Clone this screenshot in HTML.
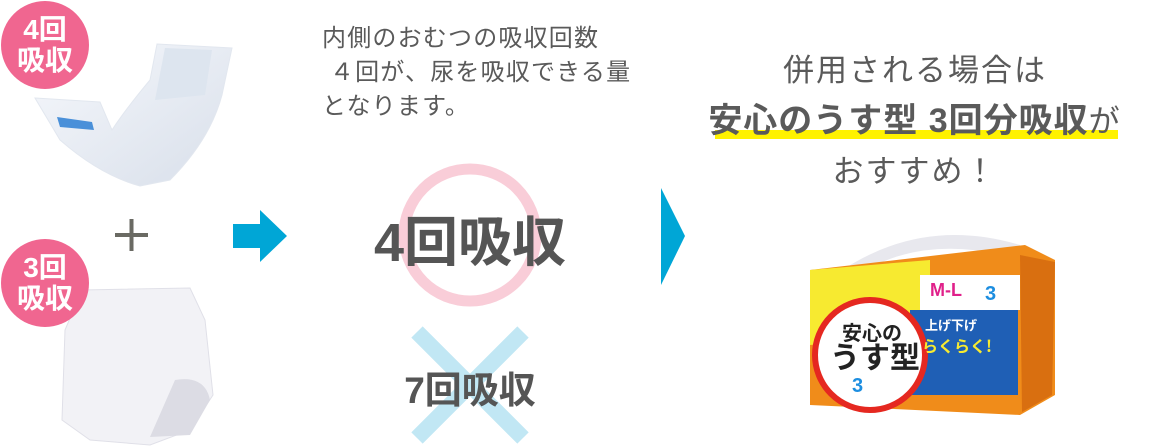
<!DOCTYPE html>
<html><head><meta charset="utf-8"><style>
body{margin:0;width:1152px;height:447px;background:#fff;position:relative;overflow:hidden;font-family:"Liberation Sans","Noto Sans CJK JP",sans-serif;color:#595959}
.a{position:absolute}
.badge{position:absolute;width:88px;height:88px;border-radius:50%;background:#f06690;color:#fff;font-weight:bold;font-size:28px;line-height:31px;text-align:center;display:flex;align-items:center;justify-content:center}
</style></head><body>
<svg class="a" style="left:0;top:0" width="300" height="447">
<defs><linearGradient id="g1" x1="0" y1="0" x2="1" y2="1"><stop offset="0" stop-color="#f6f8fc"/><stop offset="1" stop-color="#d8dfea"/></linearGradient></defs>
<path d="M35,98 L100,102 L112,130 Q125,110 150,80 L157,44 L232,48 L222,95 Q210,140 170,180 L140,186 Q100,175 60,140 Z" fill="url(#g1)" stroke="#e2e7ef"/>
<path d="M165,48 L212,50 L205,95 L155,100 Z" fill="#dde5ef"/>
<path d="M57,117 L92,122 L94,130 L60,127 Z" fill="#4a90d9"/>
<path d="M82,290 L190,288 L205,320 L213,395 L190,430 L150,445 L90,440 L62,420 L65,330 Z" fill="#f2f2f6" stroke="#e0e0e8"/>
<path d="M175,380 Q205,375 210,400 L190,435 L150,437 Z" fill="#dcdce4"/>
<rect x="115" y="233" width="33" height="4" fill="#6a6a63"/><rect x="129.5" y="219" width="4" height="32" fill="#6a6a63"/>
<path d="M233,224 L260,224 L260,210 L287,236 L260,262 L260,248 L233,248 Z" fill="#00a6d6"/>
</svg>
<div class="badge" style="left:1px;top:1px">4回<br>吸収</div>
<div class="badge" style="left:1px;top:239px">3回<br>吸収</div>
<svg class="a" style="top:0;left:380px" width="340" height="447">
<circle cx="90" cy="235" r="66" fill="none" stroke="#f9cdd8" stroke-width="11"/>
<path d="M37,332 L143,438 M143,332 L37,438" stroke="#c1e7f4" stroke-width="16"/>
<path d="M281,188 L305,236 L281,285 Z" fill="#00a6d6"/>
</svg>
<div class="a" style="left:322px;top:22px;font-size:24px;line-height:34px;letter-spacing:1.2px;color:#5a5a5a;white-space:nowrap">内側のおむつの吸収回数<br>&nbsp;４回が、尿を吸収できる量<br>となります。</div>
<div class="a" style="left:340px;top:198px;width:260px;text-align:center;font-size:54px;font-weight:bold;color:#555">4回吸収</div>
<div class="a" style="left:380px;top:360px;width:180px;text-align:center;font-size:37px;font-weight:bold;color:#555">7回吸収</div>
<div class="a" style="left:715px;top:130px;width:403px;height:9px;background:#fff200"></div>
<div class="a" style="left:680px;top:46px;width:470px;text-align:center;font-size:31px;line-height:50px;letter-spacing:2px;color:#5a5a5a;white-space:nowrap">併用される場合は<br><b style="font-size:34px;letter-spacing:1px">安心のうす型 3回分吸収</b>が<br>おすすめ！</div>
<svg class="a" style="left:790px;top:220px" width="300" height="227">
<path d="M45,55 Q130,-5 230,25 L232,40 Q130,10 60,60 Z" fill="#e8e8ee"/>
<path d="M20,50 L235,25 L265,40 L265,175 L230,195 L20,185 Z" fill="#f08c1a"/>
<path d="M230,35 L265,42 L262,175 L232,192 Z" fill="#d96f10"/>
<path d="M20,50 L140,40 L140,115 L20,125 Z" fill="#f7ea30"/>
<rect x="130" y="55" width="100" height="35" fill="#fff"/>
<path d="M120,90 L228,90 L228,175 L120,175 Z" fill="#1f5fb5"/>
<circle cx="80" cy="135" r="55" fill="#fff" stroke="#e52820" stroke-width="6"/>
<text x="52" y="120" font-size="20" font-weight="bold" fill="#222" font-family="Noto Sans CJK JP">安心の</text>
<text x="40" y="148" font-size="30" font-weight="bold" fill="#222" font-family="Noto Sans CJK JP">うす型</text>
<text x="62" y="172" font-size="20" font-weight="bold" fill="#1d8ee0" font-family="Liberation Sans">3</text>
<text x="135" y="110" font-size="13" font-weight="bold" fill="#fff" font-family="Noto Sans CJK JP">上げ下げ</text>
<text x="132" y="132" font-size="16" font-weight="bold" fill="#f7ea30" font-family="Noto Sans CJK JP">らくらく!</text>
<text x="140" y="76" font-size="18" font-weight="bold" fill="#e0208a" font-family="Liberation Sans">M-L</text>
<text x="195" y="80" font-size="20" font-weight="bold" fill="#1d8ee0" font-family="Liberation Sans">3</text>
</svg>
</body></html>
